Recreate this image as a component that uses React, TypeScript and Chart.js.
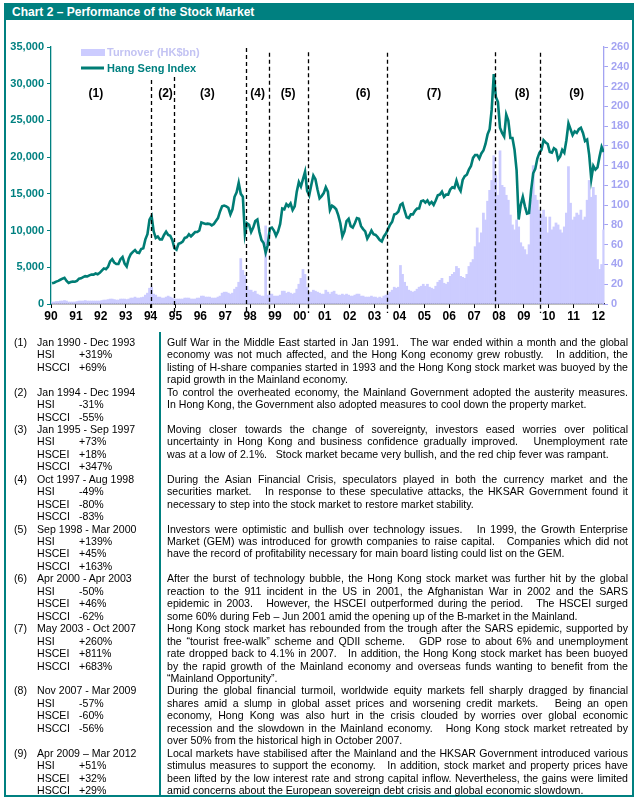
import React, { useEffect, useRef } from 'react';
import { Chart, registerables } from 'chart.js';

Chart.register(...registerables);

const START_YEAR = 1990;
const AXIS_END = 2012.22;

// Hang Seng Index, monthly (Jan 1990 - Mar 2012)
const hsi1990 = [2820, 2900, 3050, 3150, 3300, 3450, 3560, 3150, 2870, 3000, 3050, 3030];
const hsi1991 = [3150, 3450, 3500, 3650, 3800, 3750, 3900, 4000, 4000, 4150, 4050, 4250];
const hsi1992 = [4550, 4850, 4750, 5050, 5800, 6100, 5650, 5450, 5450, 6100, 6400, 5500];
const hsi1993 = [5100, 6200, 6800, 7100, 7350, 7000, 6950, 7500, 7600, 8800, 9500, 11500];
const hsi1994 = [12000, 9900, 9000, 9200, 8800, 8800, 9400, 9850, 9400, 9300, 8700, 7600];
const hsi1995 = [7400, 8200, 8300, 8500, 9000, 9100, 9500, 9200, 9500, 9800, 9800, 10000];
const hsi1996 = [11100, 11000, 10900, 10950, 10900, 10700, 10900, 11300, 11700, 12600, 13300, 13400];
const hsi1997 = [13300, 13100, 12200, 12900, 14600, 15200, 16500, 15000, 14600, 9500, 11000, 10800];
const hsi1998 = [9800, 10400, 11300, 11500, 9800, 8700, 8300, 7000, 8000, 10300, 10400, 10000];
const hsi1999 = [9300, 9900, 10900, 13000, 12900, 13600, 13300, 13700, 12800, 13300, 15300, 16600];
const hsi2000 = [16000, 17000, 18000, 15400, 14800, 16200, 17500, 17000, 15600, 14400, 14700, 15100];
const hsi2001 = [15900, 15300, 12800, 13400, 13200, 12900, 12100, 11000, 9200, 9900, 11300, 11600];
const hsi2002 = [10600, 10400, 11000, 11700, 11600, 10600, 10200, 9900, 8900, 9400, 10000, 9500];
const hsi2003 = [9400, 9100, 8700, 8500, 9200, 9600, 10200, 10800, 11200, 12200, 12300, 12600];
const hsi2004 = [13500, 13700, 12700, 11800, 11700, 12200, 12200, 12700, 13000, 13000, 14000, 14100];
const hsi2005 = [13800, 14100, 13600, 13900, 13500, 14100, 14800, 14900, 15300, 14600, 14900, 14900];
const hsi2006 = [15600, 15900, 15800, 16800, 15900, 15400, 16900, 17400, 17600, 18300, 18800, 19900];
const hsi2007 = [20300, 20300, 19800, 20500, 20900, 21800, 23100, 23800, 26500, 31300, 28200, 27500];
const hsi2008 = [24000, 23300, 22800, 25800, 25000, 22600, 22600, 21000, 18200, 11500, 13500, 14600];
const hsi2009 = [13300, 12300, 12400, 15500, 17800, 18400, 19800, 20600, 21000, 22300, 22000, 21800];
const hsi2010 = [20700, 20600, 21200, 21000, 19700, 20100, 21000, 20600, 22300, 24600, 23800, 23000];
const hsi2011 = [23500, 23300, 23800, 24000, 23300, 22200, 22400, 20300, 17000, 18800, 18300, 18600];
const hsi2012 = [20100, 21400, 20700];

// Turnover (HK$bn), monthly
const to1990 = [2, 2, 2.5, 2.5, 3, 3, 3.5, 3, 2, 2, 2, 2];
const to1991 = [2.5, 3, 3, 3, 3.5, 3, 3, 3, 3, 3, 3, 3];
const to1992 = [3.5, 4, 4, 4.5, 5, 5, 4.5, 4, 4, 5, 5, 5];
const to1993 = [4.5, 5, 6, 6, 7, 6, 6, 6.5, 7, 9, 11, 16];
const to1994 = [17, 10, 9, 7, 7, 6, 6, 7, 8, 7, 6, 5];
const to1995 = [5, 5, 5, 5, 6, 6, 6, 5, 5, 5, 6, 6];
const to1996 = [8, 8, 7, 7, 7, 6, 6, 6, 7, 8, 11, 12];
const to1997 = [12, 11, 10, 11, 15, 17, 22, 46, 34, 29, 18, 14];
const to1998 = [14, 12, 13, 10, 9, 8, 8, 79, 9, 10, 10, 8];
const to1999 = [8, 8, 9, 13, 13, 11, 12, 11, 10, 11, 15, 20];
const to2000 = [26, 35, 30, 17, 12, 12, 14, 13, 12, 11, 10, 10];
const to2001 = [14, 12, 10, 12, 13, 10, 9, 9, 10, 9, 10, 9];
const to2002 = [8, 8, 9, 10, 10, 8, 8, 7, 7, 7, 8, 7];
const to2003 = [7, 6, 7, 6, 8, 9, 10, 12, 14, 17, 16, 17];
const to2004 = [39, 30, 22, 18, 14, 13, 12, 13, 15, 17, 18, 20];
const to2005 = [18, 20, 17, 16, 15, 18, 22, 24, 26, 21, 20, 22];
const to2006 = [28, 30, 32, 38, 36, 28, 27, 26, 30, 38, 42, 45];
const to2007 = [58, 77, 62, 72, 92, 85, 104, 115, 125, 150, 130, 110];
const to2008 = [155, 120, 118, 110, 105, 90, 80, 75, 85, 78, 62, 58];
const to2009 = [55, 50, 60, 105, 140, 110, 105, 95, 90, 95, 88, 72];
const to2010 = [88, 75, 78, 82, 80, 75, 72, 78, 92, 139, 102, 85];
const to2011 = [88, 92, 90, 95, 85, 88, 105, 125, 108, 118, 110, 45];
const to2012 = [35, 40, 75];

const HSI = [
  ...hsi1990, ...hsi1991, ...hsi1992, ...hsi1993, ...hsi1994, ...hsi1995, ...hsi1996, ...hsi1997,
  ...hsi1998, ...hsi1999, ...hsi2000, ...hsi2001, ...hsi2002, ...hsi2003, ...hsi2004, ...hsi2005,
  ...hsi2006, ...hsi2007, ...hsi2008, ...hsi2009, ...hsi2010, ...hsi2011, ...hsi2012,
];
const TURNOVER = [
  ...to1990, ...to1991, ...to1992, ...to1993, ...to1994, ...to1995, ...to1996, ...to1997,
  ...to1998, ...to1999, ...to2000, ...to2001, ...to2002, ...to2003, ...to2004, ...to2005,
  ...to2006, ...to2007, ...to2008, ...to2009, ...to2010, ...to2011, ...to2012,
];

const YEAR_LABELS = ['90', '91', '92', '93', '94', '95', '96', '97', '98', '99', '00', '01', '02', '03', '04', '05', '06', '07', '08', '09', '10', '11', '12'];

// period boundaries (in years) and labels
const PERIOD_BOUNDS = [1994.03, 1994.95, 1997.82, 1998.77, 2000.33, 2003.51, 2007.83, 2009.65];
const PERIOD_BOUND_TOPS = [30500, 30900, 34850, 34200, 34300, 34200, 34300, 34200];
const PERIOD_LABELS = ['(1)', '(2)', '(3)', '(4)', '(5)', '(6)', '(7)', '(8)', '(9)'];
const PERIOD_LABEL_AT = [1991.8, 1994.6, 1996.28, 1998.3, 1999.53, 2002.54, 2005.39, 2008.93, 2011.12];
const PERIOD_LABEL_LEVEL = 28600;

// table text
const PERIOD_RANGES = [
  'Jan 1990 - Dec 1993', 'Jan 1994 - Dec 1994', 'Jan 1995 - Sep 1997', 'Oct 1997 - Aug 1998',
  'Sep 1998 - Mar 2000', 'Apr 2000 - Apr 2003', 'May 2003 - Oct 2007', 'Nov 2007 - Mar 2009',
  'Apr 2009 \u2013 Mar 2012',
];
const PERIOD_STATS = [
  [['HSI', '+319%'], ['HSCCI', '+69%']],
  [['HSI', '-31%'], ['HSCCI', '-55%']],
  [['HSI', '+73%'], ['HSCEI', '+18%'], ['HSCCI', '+347%']],
  [['HSI', '-49%'], ['HSCEI', '-80%'], ['HSCCI', '-83%']],
  [['HSI', '+139%'], ['HSCEI', '+45%'], ['HSCCI', '+163%']],
  [['HSI', '-50%'], ['HSCEI', '+46%'], ['HSCCI', '-62%']],
  [['HSI', '+260%'], ['HSCEI', '+811%'], ['HSCCI', '+683%']],
  [['HSI', '-57%'], ['HSCEI', '-60%'], ['HSCCI', '-56%']],
  [['HSI', '+51%'], ['HSCEI', '+32%'], ['HSCCI', '+29%']],
];
const S = '\u00a0\u00a0 ';
const PERIOD_TEXT = [
  [
    'Gulf War in the Middle East started in Jan 1991.' + S + 'The war ended within a month and the global',
    'economy was not much affected, and the Hong Kong economy grew robustly.' + S + 'In addition, the',
    'listing of H-share companies started in 1993 and the Hong Kong stock market was buoyed by the',
    'rapid growth in the Mainland economy.',
  ],
  [
    'To control the overheated economy, the Mainland Government adopted the austerity measures.',
    'In Hong Kong, the Government also adopted measures to cool down the property market.',
  ],
  [
    'Moving closer towards the change of sovereignty, investors eased worries over political',
    'uncertainty in Hong Kong and business confidence gradually improved.' + S + 'Unemployment rate',
    'was at a low of 2.1%.' + S + 'Stock market became very bullish, and the red chip fever was rampant.',
  ],
  [
    'During the Asian Financial Crisis, speculators played in both the currency market and the',
    'securities market.' + S + 'In response to these speculative attacks, the HKSAR Government found it',
    'necessary to step into the stock market to restore market stability.',
  ],
  [
    'Investors were optimistic and bullish over technology issues.' + S + 'In 1999, the Growth Enterprise',
    'Market (GEM) was introduced for growth companies to raise capital.' + S + 'Companies which did not',
    'have the record of profitability necessary for main board listing could list on the GEM.',
  ],
  [
    'After the burst of technology bubble, the Hong Kong stock market was further hit by the global',
    'reaction to the 911 incident in the US in 2001, the Afghanistan War in 2002 and the SARS',
    'epidemic in 2003.' + S + 'However, the HSCEI outperformed during the period.' + S + 'The HSCEI surged',
    'some 60% during Feb \u2013 Jun 2001 amid the opening up of the B-market in the Mainland.',
  ],
  [
    'Hong Kong stock market has rebounded from the trough after the SARS epidemic, supported by',
    'the \u201ctourist free-walk\u201d scheme and QDII scheme.' + S + 'GDP rose to about 6% and unemployment',
    'rate dropped back to 4.1% in 2007.' + S + 'In addition, the Hong Kong stock market has been buoyed',
    'by the rapid growth of the Mainland economy and overseas funds wanting to benefit from the',
    '\u201cMainland Opportunity\u201d.',
  ],
  [
    'During the global financial turmoil, worldwide equity markets fell sharply dragged by financial',
    'shares amid a slump in global asset prices and worsening credit markets.' + S + 'Being an open',
    'economy, Hong Kong was also hurt in the crisis clouded by worries over global economic',
    'recession and the slowdown in the Mainland economy.' + S + 'Hong Kong stock market retreated by',
    'over 50% from the historical high in October 2007.',
  ],
  [
    'Local markets have stabilised after the Mainland and the HKSAR Government introduced various',
    'stimulus measures to support the economy.' + S + 'In addition, stock market and property prices have',
    'been lifted by the low interest rate and strong capital inflow. Nevertheless, the gains were limited',
    'amid concerns about the European sovereign debt crisis and global economic slowdown.',
  ],
];

const TEAL = '#008080';
const LINE_TEAL = '#007d75';
const BAR_COLOR = '#ccccff';
const RIGHT_AXIS = '#a3a3f2';
const FONT = "'Liberation Sans', Arial, sans-serif";

const TABLE_TOP = 335.8;
const LH = 12.45;
const SX = 0.92;
const TEXT_W = 461;

const overlayPlugin = {
  id: 'overlay',
  afterDatasetsDraw(chart: any) {
    const { ctx, chartArea } = chart;
    const x = chart.scales.x;
    const y = chart.scales.y;
    ctx.save();
    ctx.strokeStyle = '#000';
    ctx.lineWidth = 1.3;
    ctx.setLineDash([4, 3]);
    PERIOD_BOUNDS.forEach((b, i) => {
      const px = Math.round(x.getPixelForValue(b)) + 0.5;
      ctx.beginPath();
      ctx.moveTo(px, y.getPixelForValue(PERIOD_BOUND_TOPS[i]));
      ctx.lineTo(px, chartArea.bottom + 9);
      ctx.stroke();
    });
    ctx.setLineDash([]);
    ctx.fillStyle = '#000';
    ctx.font = `bold 12px ${FONT}`;
    ctx.textAlign = 'center';
    ctx.textBaseline = 'middle';
    PERIOD_LABELS.forEach((lab, i) => {
      ctx.fillText(lab, x.getPixelForValue(PERIOD_LABEL_AT[i]), y.getPixelForValue(PERIOD_LABEL_LEVEL));
    });
    ctx.textAlign = 'left';
    ctx.font = `bold 11px ${FONT}`;
    ctx.fillStyle = BAR_COLOR;
    ctx.fillRect(81, 49, 24, 7);
    ctx.fillStyle = '#c3c3f3';
    ctx.fillText('Turnover (HK$bn)', 107, 53);
    ctx.strokeStyle = LINE_TEAL;
    ctx.lineWidth = 3;
    ctx.beginPath();
    ctx.moveTo(81, 68);
    ctx.lineTo(104, 68);
    ctx.stroke();
    ctx.fillStyle = TEAL;
    ctx.fillText('Hang Seng Index', 107, 68.5);
    ctx.restore();
  },
};

const scaled = (extra: React.CSSProperties = {}): React.CSSProperties => ({
  position: 'absolute',
  lineHeight: `${LH}px`,
  height: LH,
  whiteSpace: 'nowrap',
  transform: `scaleX(${SX})`,
  transformOrigin: '0 0',
  ...extra,
});

export default function App() {
  const ref = useRef<HTMLCanvasElement>(null);

  useEffect(() => {
    const monthX = (i: number) => START_YEAR + (i + 0.5) / 12;
    const chart = new Chart(ref.current as HTMLCanvasElement, {
      type: 'bar',
      data: {
        datasets: [
          {
            type: 'line',
            label: 'Hang Seng Index',
            data: HSI.map((v, i) => ({ x: monthX(i), y: v })),
            yAxisID: 'y',
            borderColor: LINE_TEAL,
            borderWidth: 2.6,
            pointRadius: 0,
            tension: 0,
            order: 1,
          } as any,
          {
            type: 'bar',
            label: 'Turnover (HK$bn)',
            data: TURNOVER.map((v, i) => ({ x: monthX(i), y: v })),
            yAxisID: 'y2',
            backgroundColor: BAR_COLOR,
            borderWidth: 0,
            barPercentage: 1,
            categoryPercentage: 1,
            order: 2,
          } as any,
        ],
      },
      options: {
        responsive: false,
        animation: false,
        devicePixelRatio: 1,
        layout: { padding: { top: 47, left: 0, right: 0, bottom: 0 } },
        plugins: { legend: { display: false }, tooltip: { enabled: false }, title: { display: false } },
        scales: {
          x: {
            type: 'linear',
            min: START_YEAR,
            max: AXIS_END,
            offset: false,
            grid: { display: true, drawOnChartArea: false, drawTicks: true, tickLength: 4, color: '#000', offset: false },
            border: { display: true, color: '#000', width: 1.3 },
            ticks: {
              stepSize: 1,
              includeBounds: false,
              autoSkip: false,
              maxRotation: 0,
              padding: 1,
              color: '#000',
              font: { family: FONT, size: 12, weight: 'bold' },
              callback: (v: any) => YEAR_LABELS[Math.round(Number(v)) - START_YEAR] ?? '',
            },
            afterFit: (s: any) => { s.height = 21; },
          },
          y: {
            position: 'left',
            min: 0,
            max: 35000,
            grid: { drawOnChartArea: false, drawTicks: true, tickLength: 4, color: TEAL },
            border: { display: true, color: TEAL, width: 1.3 },
            ticks: {
              stepSize: 5000,
              padding: 3,
              color: TEAL,
              font: { family: FONT, size: 11, weight: 'bold' },
              callback: (v: any) => Number(v).toLocaleString('en-US'),
            },
            afterFit: (s: any) => { s.width = 51; },
          },
          y2: {
            position: 'right',
            min: 0,
            max: 260,
            grid: { drawOnChartArea: false, drawTicks: true, tickLength: 4, color: RIGHT_AXIS },
            border: { display: true, color: RIGHT_AXIS, width: 1.3 },
            ticks: {
              stepSize: 20,
              padding: 3,
              color: RIGHT_AXIS,
              font: { family: FONT, size: 11, weight: 'bold' },
            },
            afterFit: (s: any) => { s.width = 32; },
          },
        },
      } as any,
      plugins: [overlayPlugin],
    });
    return () => chart.destroy();
  }, []);

  const rows: React.ReactNode[] = [];
  let line = 0;
  PERIOD_TEXT.forEach((lines, k) => {
    const n = Math.max(lines.length, PERIOD_STATS[k].length + 1);
    const top0 = TABLE_TOP + line * LH;
    rows.push(
      <div key={`n${k}`} style={scaled({ left: 14, top: top0 })}>{PERIOD_LABELS[k]}</div>,
      <div key={`r${k}`} style={scaled({ left: 36.5, top: top0 })}>{PERIOD_RANGES[k]}</div>,
    );
    PERIOD_STATS[k].forEach(([name, val], j) => {
      const t = TABLE_TOP + (line + 1 + j) * LH;
      rows.push(
        <div key={`s${k}-${j}`} style={scaled({ left: 36.5, top: t })}>{name}</div>,
        <div key={`v${k}-${j}`} style={scaled({ left: 78.5, top: t })}>{val}</div>,
      );
    });
    lines.forEach((txt, j) => {
      const last = j === lines.length - 1;
      rows.push(
        <div
          key={`t${k}-${j}`}
          style={scaled({
            left: 167,
            width: TEXT_W / SX,
            top: TABLE_TOP + (line + j) * LH,
            textAlign: 'justify',
            textAlignLast: last ? 'left' : 'justify',
          } as any)}
        >
          {txt}
        </div>,
      );
    });
    line += n;
  });

  return (
    <div style={{ position: 'absolute', left: 0, top: 0, width: 636, height: 802, background: '#fff', overflow: 'hidden' }}>
      <canvas ref={ref} width={636} height={325} style={{ position: 'absolute', left: 0, top: 0, width: 636, height: 325 }} />
      <div style={{ position: 'absolute', left: 4, top: 3, width: 630, height: 794, border: `2px solid ${TEAL}`, boxSizing: 'border-box' }} />
      <div style={{ position: 'absolute', left: 4, top: 3, width: 630, height: 17, background: TEAL }} />
      <div
        style={{
          position: 'absolute', left: 12, top: 3, height: 17, lineHeight: '17px', color: '#fff',
          fontFamily: FONT, fontWeight: 'bold', fontSize: 13, whiteSpace: 'nowrap',
          transform: 'scaleX(0.924)', transformOrigin: '0 0',
        }}
      >
        Chart 2 – Performance of the Stock Market
      </div>
      <div style={{ position: 'absolute', left: 159, top: 332, width: 1.5, height: 465, background: TEAL }} />
      <div style={{ position: 'absolute', left: 0, top: 0, width: 636, height: 802, fontFamily: FONT, fontSize: 11.5, color: '#000' }}>
        {rows}
      </div>
    </div>
  );
}
